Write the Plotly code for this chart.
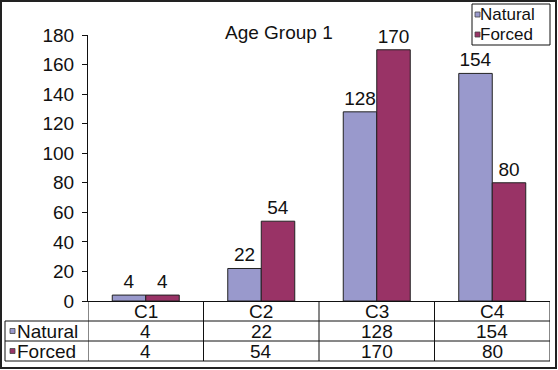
import plotly.graph_objects as go

categories = ["C1", "C2", "C3", "C4"]
natural = [4, 22, 128, 154]
forced = [4, 54, 170, 80]
series_names = ["Natural", "Forced"]
y_ticks = [0, 20, 40, 60, 80, 100, 120, 140, 160, 180]
title_text = "Age Group 1"

C_NAT = "#9999CC"
C_FOR = "#993366"
FONT = "Liberation Sans, Arial, sans-serif"
FS = 19

W, H = 558, 370
L, R, T, B = 88, 8, 35, 69
PW = W - L - R
PH = H - T - B


def px_x(p):
    return (p - L) / PW


def px_y(p):
    return (H - B - p) / PH


fig = go.Figure()
for name, vals, col in [(series_names[0], natural, C_NAT), (series_names[1], forced, C_FOR)]:
    fig.add_trace(go.Bar(
        x=list(range(len(categories))), y=vals, name=name,
        marker=dict(color=col, line=dict(color="#222222", width=1)),
        text=[str(v) for v in vals], textposition="outside",
        textfont=dict(family=FONT, size=FS, color="#111111"),
        cliponaxis=False, showlegend=False, hoverinfo="skip",
    ))

shapes = []
ann = []
line = dict(color="#111111", width=1)

# table grid
y_hdr_bot = px_y(321)
y_row1_bot = px_y(341)
y_row2_bot = px_y(361)
x_left = px_x(5)
for i in range(len(categories) + 1):
    shapes.append(dict(type="line", xref="x", yref="paper", x0=i - 0.5, x1=i - 0.5,
                       y0=0, y1=y_row2_bot, line=line))
for yy in [y_hdr_bot, y_row1_bot, y_row2_bot]:
    shapes.append(dict(type="line", xref="paper", yref="paper", x0=x_left, x1=1,
                       y0=yy, y1=yy, line=line))
shapes.append(dict(type="line", xref="paper", yref="paper", x0=x_left, x1=x_left,
                   y0=y_hdr_bot, y1=y_row2_bot, line=line))

# header labels and values
for i, c in enumerate(categories):
    ann.append(dict(x=i, xref="x", y=px_y(311), yref="paper", text=c, showarrow=False,
                    font=dict(family=FONT, size=FS, color="#111111"), yanchor="middle"))
    ann.append(dict(x=i, xref="x", y=px_y(331), yref="paper", text=str(natural[i]), showarrow=False,
                    font=dict(family=FONT, size=FS, color="#111111"), yanchor="middle"))
    ann.append(dict(x=i, xref="x", y=px_y(351), yref="paper", text=str(forced[i]), showarrow=False,
                    font=dict(family=FONT, size=FS, color="#111111"), yanchor="middle"))

# row labels with small key squares
for name, col, yc in [(series_names[0], C_NAT, 331), (series_names[1], C_FOR, 351)]:
    shapes.append(dict(type="rect", xref="paper", yref="paper", x0=px_x(10), x1=px_x(15),
                       y0=px_y(yc + 2.5), y1=px_y(yc - 2.5), fillcolor=col,
                       line=dict(color="#444444", width=0.8)))
    ann.append(dict(x=px_x(15), xref="paper", y=px_y(yc), yref="paper", text=name,
                    showarrow=False, xanchor="left", yanchor="middle",
                    font=dict(family=FONT, size=FS, color="#111111")))

# legend box
LFS = 17
shapes.append(dict(type="rect", xref="paper", yref="paper", x0=px_x(472), x1=px_x(550),
                   y0=px_y(45), y1=px_y(4), line=line, fillcolor="white"))
for name, col, yc in [(series_names[0], C_NAT, 14.5), (series_names[1], C_FOR, 34.5)]:
    shapes.append(dict(type="rect", xref="paper", yref="paper", x0=px_x(475), x1=px_x(480),
                       y0=px_y(yc + 2.5), y1=px_y(yc - 2.5), fillcolor=col,
                       line=dict(color="#444444", width=0.8)))
    ann.append(dict(x=px_x(479), xref="paper", y=px_y(yc), yref="paper", text=name,
                    showarrow=False, xanchor="left", yanchor="middle", borderpad=0,
                    font=dict(family=FONT, size=LFS, color="#111111")))

# outer border
shapes.append(dict(type="rect", xref="paper", yref="paper", x0=px_x(1), x1=px_x(556),
                   y0=px_y(368), y1=px_y(1), line=dict(color="#222222", width=2)))

# title
ann.append(dict(x=px_x(279), xref="paper", y=px_y(33), yref="paper", text=title_text,
                showarrow=False, yanchor="middle",
                font=dict(family=FONT, size=FS, color="#111111")))

fig.update_layout(
    width=W, height=H,
    margin=dict(l=L, r=R, t=T, b=B, pad=0),
    paper_bgcolor="white", plot_bgcolor="white",
    barmode="group", bargap=0.42, bargroupgap=0,
    showlegend=False, hovermode=False,
    shapes=shapes, annotations=ann,
    font=dict(family=FONT, size=FS, color="#111111"),
    xaxis=dict(range=[-0.5, len(categories) - 0.5], showticklabels=False, ticks="",
               showgrid=False, zeroline=False, showline=True, linecolor="#111111", linewidth=1),
    yaxis=dict(range=[0, 180], tickvals=y_ticks, ticks="outside", ticklen=5, tickcolor="#111111",
               showgrid=False, zeroline=False, showline=True, linecolor="#111111", linewidth=1,
               tickfont=dict(family=FONT, size=FS, color="#111111"), ticklabelstandoff=4),
)

fig.write_html("out.html", config={"displayModeBar": False, "staticPlot": True},
               post_script="document.body.style.margin='0';document.body.style.padding='0';")
